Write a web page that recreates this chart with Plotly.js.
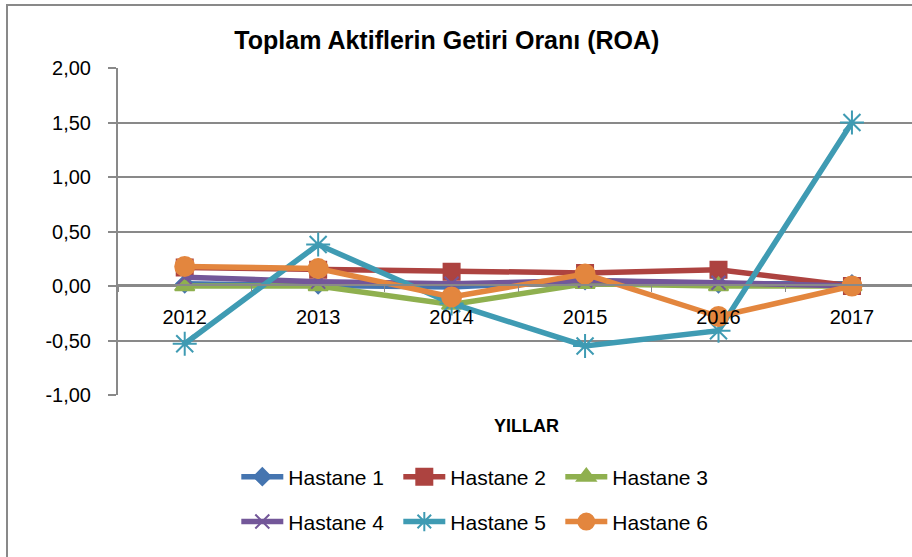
<!DOCTYPE html>
<html>
<head>
<meta charset="utf-8">
<script src="https://cdn.plot.ly/plotly-3.0.1.min.js"></script>
<style>html,body{margin:0;padding:0;background:#fff;}#chart{width:912px;height:557px;}</style>
</head>
<body>
<div id="chart"></div>
<script>
const years = ["2012", "2013", "2014", "2015", "2016", "2017"];
const seriesNames = ["Hastane 1", "Hastane 2", "Hastane 3", "Hastane 4", "Hastane 5", "Hastane 6"];
const hastane1 = [0.02, 0.01, -0.01, 0.05, 0.02, 0.02];
const hastane2 = [0.17, 0.15, 0.13, 0.12, 0.15, 0.00];
const hastane3 = [0.00, 0.00, -0.17, 0.02, 0.00, 0.00];
const hastane4 = [0.08, 0.04, 0.02, 0.05, 0.03, 0.00];
const hastane5 = [-0.53, 0.38, -0.16, -0.55, -0.41, 1.50];
const hastane6 = [0.18, 0.16, -0.10, 0.11, -0.28, 0.00];
const yTicks = [-1, -0.5, 0, 0.5, 1, 1.5, 2];
const yTickText = ["-1,00", "-0,50", "0,00", "0,50", "1,00", "1,50", "2,00"];
const titleText = "Toplam Aktiflerin Getiri Oranı (ROA)";
const xTitle = "YILLAR";

const values = [hastane1, hastane2, hastane3, hastane4, hastane5, hastane6];
const colors = ["#4575B0", "#AD4340", "#8FB04F", "#735799", "#3F9BB3", "#E3863E"];
const symbols = ["diamond", "square", "triangle-up", "x-thin-open", "asterisk-open", "circle"];
const sizes = [13, 16, 17, 14, 20, 19];

const FONT = "Liberation Sans, Arial, sans-serif";

const traces = values.map((v, i) => ({
  type: "scatter",
  mode: "lines+markers",
  name: seriesNames[i],
  x: years,
  y: v,
  line: {color: colors[i], width: 5.5},
  marker: {symbol: symbols[i], size: sizes[i], color: colors[i], line: {color: colors[i], width: 2}},
  legend: i < 3 ? "legend" : "legend2",
  cliponaxis: false
}));

const legendBase = {
  orientation: "h",
  xref: "paper", yref: "paper",
  xanchor: "left", yanchor: "middle",
  font: {family: FONT, size: 21, color: "#000"},
  itemwidth: 42,
  entrywidth: 105,
  tracegroupgap: 0,
  bgcolor: "rgba(0,0,0,0)"
};

const layout = {
  width: 912, height: 557,
  margin: {l: 118, r: 0, t: 68, b: 162},
  paper_bgcolor: "#fff",
  plot_bgcolor: "#fff",
  showlegend: true,
  title: {text: "<b>" + titleText + "</b>", font: {family: FONT, size: 25, color: "#000"}, x: 0.49, xanchor: "center", y: 0.928, yanchor: "middle"},
  xaxis: {
    type: "category",
    range: [-0.5, 5.45],
    anchor: "free",
    position: 0.3364,
    showline: true, linecolor: "#898989", linewidth: 2,
    showgrid: false,
    ticks: "outside", ticklen: 6, tickcolor: "#898989", tickwidth: 1,
    tickson: "boundaries",
    ticklabelstandoff: 14,
    tickfont: {family: FONT, size: 20, color: "#000"},
    fixedrange: true
  },
  yaxis: {
    range: [-1, 2],
    tickvals: yTicks,
    ticktext: yTickText,
    showline: true, linecolor: "#898989", linewidth: 2,
    showgrid: true, gridcolor: "#898989", gridwidth: 2,
    zeroline: true, zerolinecolor: "#898989", zerolinewidth: 2,
    ticks: "outside", ticklen: 8, tickcolor: "#898989", tickwidth: 2,
    ticklabelstandoff: 13,
    tickfont: {family: FONT, size: 20, color: "#000"},
    fixedrange: true
  },
  legend: Object.assign({}, legendBase, {x: 0.149, y: -0.251}),
  legend2: Object.assign({}, legendBase, {x: 0.149, y: -0.388}),
  annotations: [{
    text: "<b>" + xTitle + "</b>", xref: "paper", yref: "paper",
    x: 0.515, y: -0.095, xanchor: "center", yanchor: "middle", showarrow: false,
    font: {family: FONT, size: 18, color: "#000"}
  }],
  shapes: [{
    type: "rect", xref: "paper", yref: "paper",
    x0: (7 - 118) / 794, x1: 1.2, y0: (395 - 560) / 327, y1: (395 - 5) / 327,
    line: {color: "#898989", width: 2}, fillcolor: "rgba(0,0,0,0)", layer: "below"
  }]
};

Plotly.newPlot("chart", traces, layout, {displayModeBar: false, staticPlot: true});
</script>
</body>
</html>
